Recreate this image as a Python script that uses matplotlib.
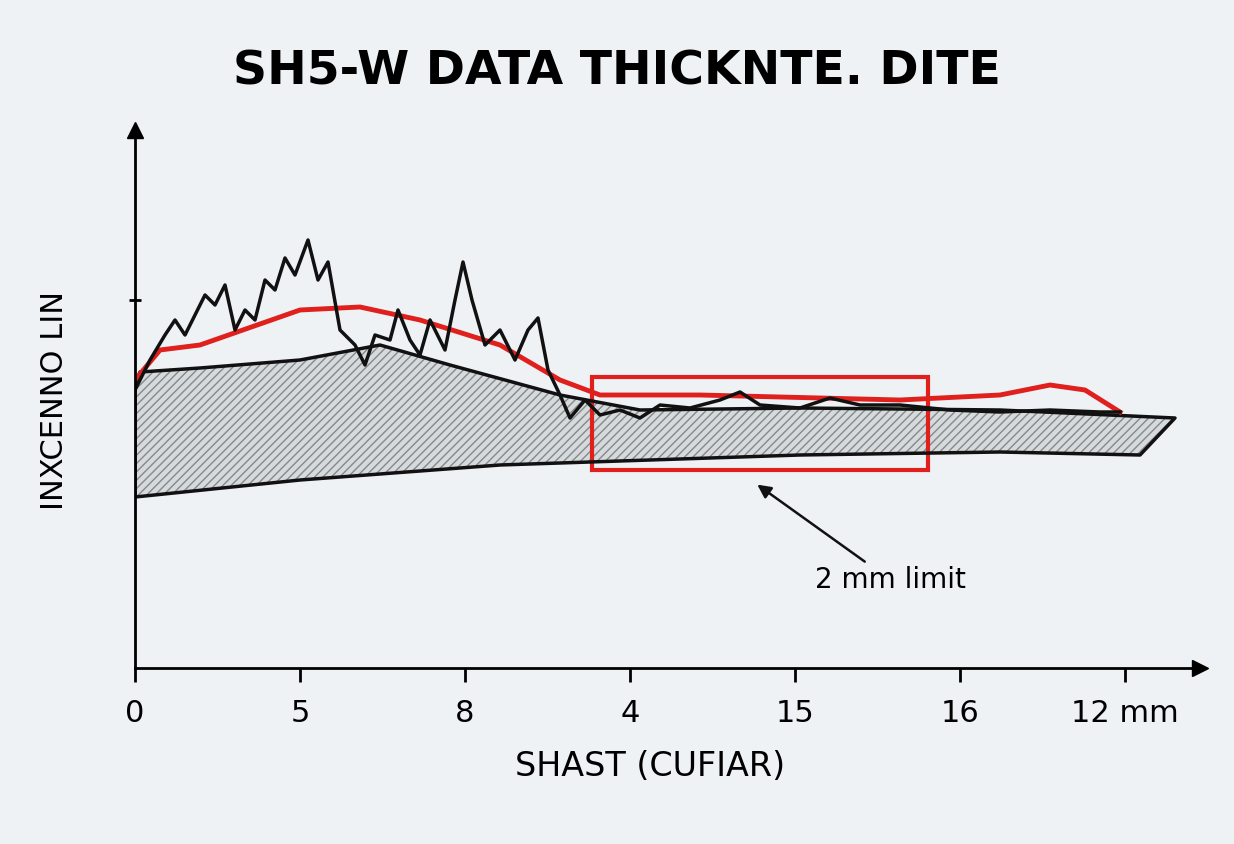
import numpy as np
import matplotlib.pyplot as plt
from matplotlib.patches import Rectangle

# data (x in tick steps, y in arbitrary units)
tick_pos = [0, 1, 2, 3, 4, 5, 6]
tick_labels = ["0", "5", "8", "4", "15", "16", "12 mm"]

upper_px = [(135, 385), (140, 372), (200, 368), (300, 360), (380, 345), (450, 365), (560, 395),
            (640, 410), (800, 408), (1000, 410), (1175, 418)]
lower_px = [(135, 497), (300, 480), (500, 465), (800, 455), (1000, 452), (1140, 455), (1175, 418)]
red_px = [(135, 380), (160, 350), (200, 345), (300, 310), (360, 307), (420, 320), (500, 345),
          (560, 380), (600, 395), (700, 395), (900, 400), (1000, 395), (1050, 385), (1085, 390),
          (1120, 412)]
noisy_px = [(135, 390), (150, 360), (165, 335), (175, 320), (185, 335), (195, 315), (205, 295),
            (215, 305), (225, 285), (235, 330), (245, 310), (255, 320), (265, 280), (275, 290),
            (285, 258), (295, 275), (308, 240), (318, 280), (328, 262), (340, 330), (355, 345),
            (365, 365), (375, 335), (390, 340), (398, 310), (410, 340), (420, 355), (430, 320),
            (445, 350), (455, 300), (463, 262), (472, 300), (485, 345), (500, 330), (515, 360),
            (528, 330), (538, 318), (548, 370), (560, 395), (570, 418), (585, 400), (600, 415),
            (620, 410), (640, 418), (660, 405), (690, 408), (720, 400), (740, 392), (760, 405),
            (800, 408), (830, 398), (860, 405), (900, 405), (950, 410), (1000, 412), (1050, 410),
            (1100, 412), (1120, 412)]


def conv(pts):
    a = np.array(pts, dtype=float)
    return (a[:, 0] - 135) / 165, (668 - a[:, 1]) / 100


fig = plt.figure(figsize=(12.34, 8.44), dpi=100)
fig.patch.set_facecolor("#eef2f5")
ax = fig.add_axes([135 / 1234, (844 - 668) / 844, (1200 - 135) / 1234, (668 - 130) / 844])
ax.set_facecolor("#eef2f5")
ax.set_xlim(0, (1200 - 135) / 165)
ax.set_ylim(0, (668 - 130) / 100)
for s in ["top", "right"]:
    ax.spines[s].set_visible(False)
for s in ["left", "bottom"]:
    ax.spines[s].set_linewidth(2)

ux, uy = conv(upper_px)
lx, ly = conv(lower_px)
poly_x = np.concatenate([ux, lx[::-1], [ux[0]]])
poly_y = np.concatenate([uy, ly[::-1], [uy[0]]])
ax.fill(poly_x, poly_y, facecolor="#d5dadd", edgecolor="#888888", hatch="////", lw=0)
ax.plot(poly_x, poly_y, color="#111111", lw=2.5)

rx, ry = conv(red_px)
ax.plot(rx, ry, color="#e0201c", lw=3.5)
nx, ny = conv(noisy_px)
ax.plot(nx, ny, color="#111111", lw=2.5)

ax.add_patch(Rectangle(((592 - 135) / 165, (668 - 470) / 100), (928 - 592) / 165, (470 - 377) / 100,
                       fill=False, edgecolor="#e0201c", lw=3))
ax.annotate("2 mm limit", xy=((755 - 135) / 165, (668 - 483) / 100),
            xytext=((815 - 135) / 165, (668 - 580) / 100), fontsize=20, va="center",
            arrowprops=dict(arrowstyle="-|>", color="#111111", lw=1.8))

ax.set_xticks(tick_pos)
ax.set_xticklabels(tick_labels, fontsize=22)
ax.set_yticks([(668 - 300) / 100])
ax.set_yticklabels([])
ax.tick_params(axis="x", length=10, width=2, pad=12)
ax.tick_params(axis="y", length=8, width=2, direction="inout")
ax.plot(1, 0, ">k", transform=ax.transAxes, clip_on=False, ms=12)
ax.plot(0, 1, "^k", transform=ax.transAxes, clip_on=False, ms=12)

fig.text(0.5, 1 - 72 / 844, "SH5-W DATA THICKNTE. DITE", ha="center", va="center",
         fontsize=34, fontweight="bold")
fig.text(650 / 1234, 1 - 767 / 844, "SHAST (CUFIAR)", ha="center", va="center", fontsize=24)
fig.text(55 / 1234, 1 - 400 / 844, "INXCENNO LIN", ha="center", va="center", fontsize=22,
         rotation=90)

fig.savefig("out.png", facecolor=fig.get_facecolor())
